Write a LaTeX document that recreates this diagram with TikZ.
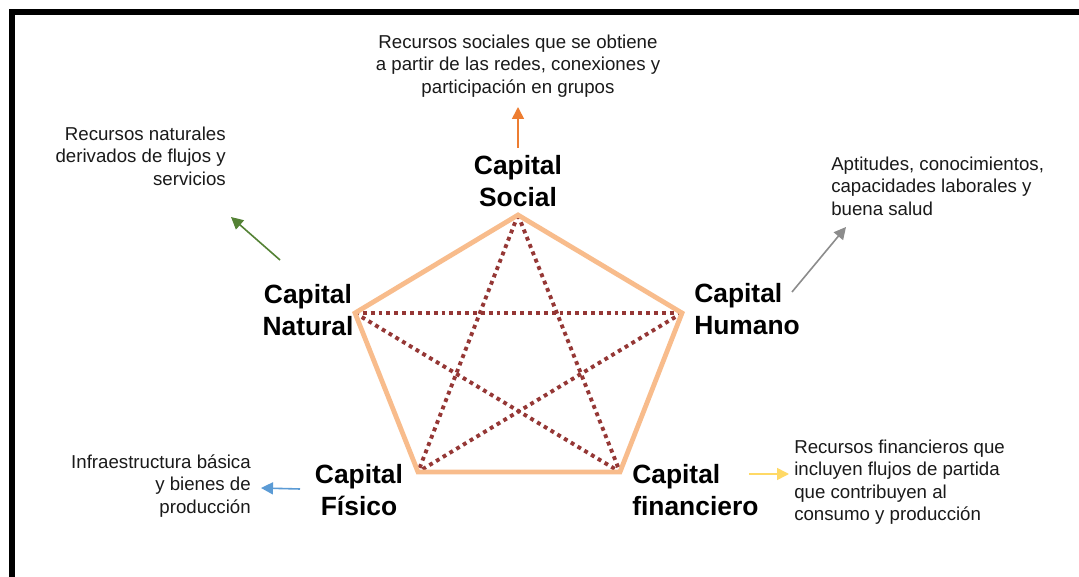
\documentclass[tikz,border=0pt]{standalone}
\usepackage{fontspec}
\setmainfont{Liberation Sans}
\usetikzlibrary{arrows.meta}
\definecolor{edgeor}{HTML}{F8BC8C}
\definecolor{dotred}{HTML}{953735}
\definecolor{arrOr}{HTML}{ED7D31}
\definecolor{arrGr}{HTML}{548235}
\definecolor{arrGy}{HTML}{8C8C8C}
\definecolor{arrBl}{HTML}{5B9BD5}
\definecolor{arrYe}{HTML}{FFD966}
\definecolor{txt}{HTML}{1A1A1A}
\begin{document}
\begin{tikzpicture}[x=0.75pt,y=-0.75pt,
  capnode/.style={font=\fontsize{19.8pt}{24pt}\selectfont\bfseries, inner sep=0pt},
  desc/.style={font=\fontsize{14pt}{16.9pt}\selectfont, text=txt, inner sep=0pt},
  pent/.style={draw=edgeor, line width=3.6pt, line join=miter},
  star/.style={draw=dotred, line width=2.9pt, dash pattern=on 2.9pt off 3pt},
  arr/.style={line width=1.2pt, -{Triangle[length=9pt,width=9pt]}}]
\useasboundingbox (0,0) rectangle (1079,577);
\fill[white] (0,0) rectangle (1079,577);
% frame
\draw[line width=4.5pt] (11.5,577) -- (11.5,12.5) -- (1079,12.5);
% vertices
\coordinate (vS) at (518,215);
\coordinate (vN) at (355,313);
\coordinate (vH) at (682,313);
\coordinate (vF) at (418,472);
\coordinate (vC) at (620,472);
% star
\draw[star] (vS) -- (vF);
\draw[star] (vS) -- (vC);
\draw[star] (vN) -- (vH);
\draw[star] (vN) -- (vC);
\draw[star] (vH) -- (vF);
% pentagon
\draw[pent] (vS) -- (vH) -- (vC) -- (vF) -- (vN) -- cycle;
% labels
\node[capnode, align=center] (lS) at (518,181) {Capital\\Social};
\node[capnode, align=center] (lN) at (308,310) {Capital\\Natural};
\node[capnode, align=left, anchor=west] (lH) at (694,309) {Capital\\Humano};
\node[capnode, align=center] (lF) at (359,490) {Capital\\Físico};
\node[capnode, align=left, anchor=west] (lC) at (632,490) {Capital\\financiero};
% descriptions
\node[desc, align=center] (dS) at (518,66) {Recursos sociales que se obtiene\\a partir de las redes, conexiones y\\participación en grupos};
\node[desc, align=right, anchor=east] (dN) at (226,156) {Recursos naturales\\derivados de flujos y\\servicios};
\node[desc, align=left, anchor=west] (dH) at (831,186) {Aptitudes, conocimientos,\\capacidades laborales y\\buena salud};
\node[desc, align=right, anchor=east] (dF) at (251,486) {Infraestructura básica\\y bienes de\\producción};
\node[desc, align=left, anchor=west] (dC) at (794,482) {Recursos financieros que\\incluyen flujos de partida\\que contribuyen al\\consumo y producción};
% arrows
\coordinate (aS1) at (518,148); \coordinate (aS2) at (518,107);
\coordinate (aN1) at (280,260); \coordinate (aN2) at (231,217);
\coordinate (aH1) at (792,292); \coordinate (aH2) at (846,227);
\coordinate (aF1) at (300,489); \coordinate (aF2) at (261,488);
\coordinate (aC1) at (749,474); \coordinate (aC2) at (789,474);
\draw[arr, draw=arrOr, fill=arrOr] (aS1) -- (aS2);
\draw[arr, draw=arrGr, fill=arrGr] (aN1) -- (aN2);
\draw[arr, draw=arrGy, fill=arrGy] (aH1) -- (aH2);
\draw[arr, draw=arrBl, fill=arrBl] (aF1) -- (aF2);
\draw[arr, draw=arrYe, fill=arrYe] (aC1) -- (aC2);
\end{tikzpicture}
\end{document}
